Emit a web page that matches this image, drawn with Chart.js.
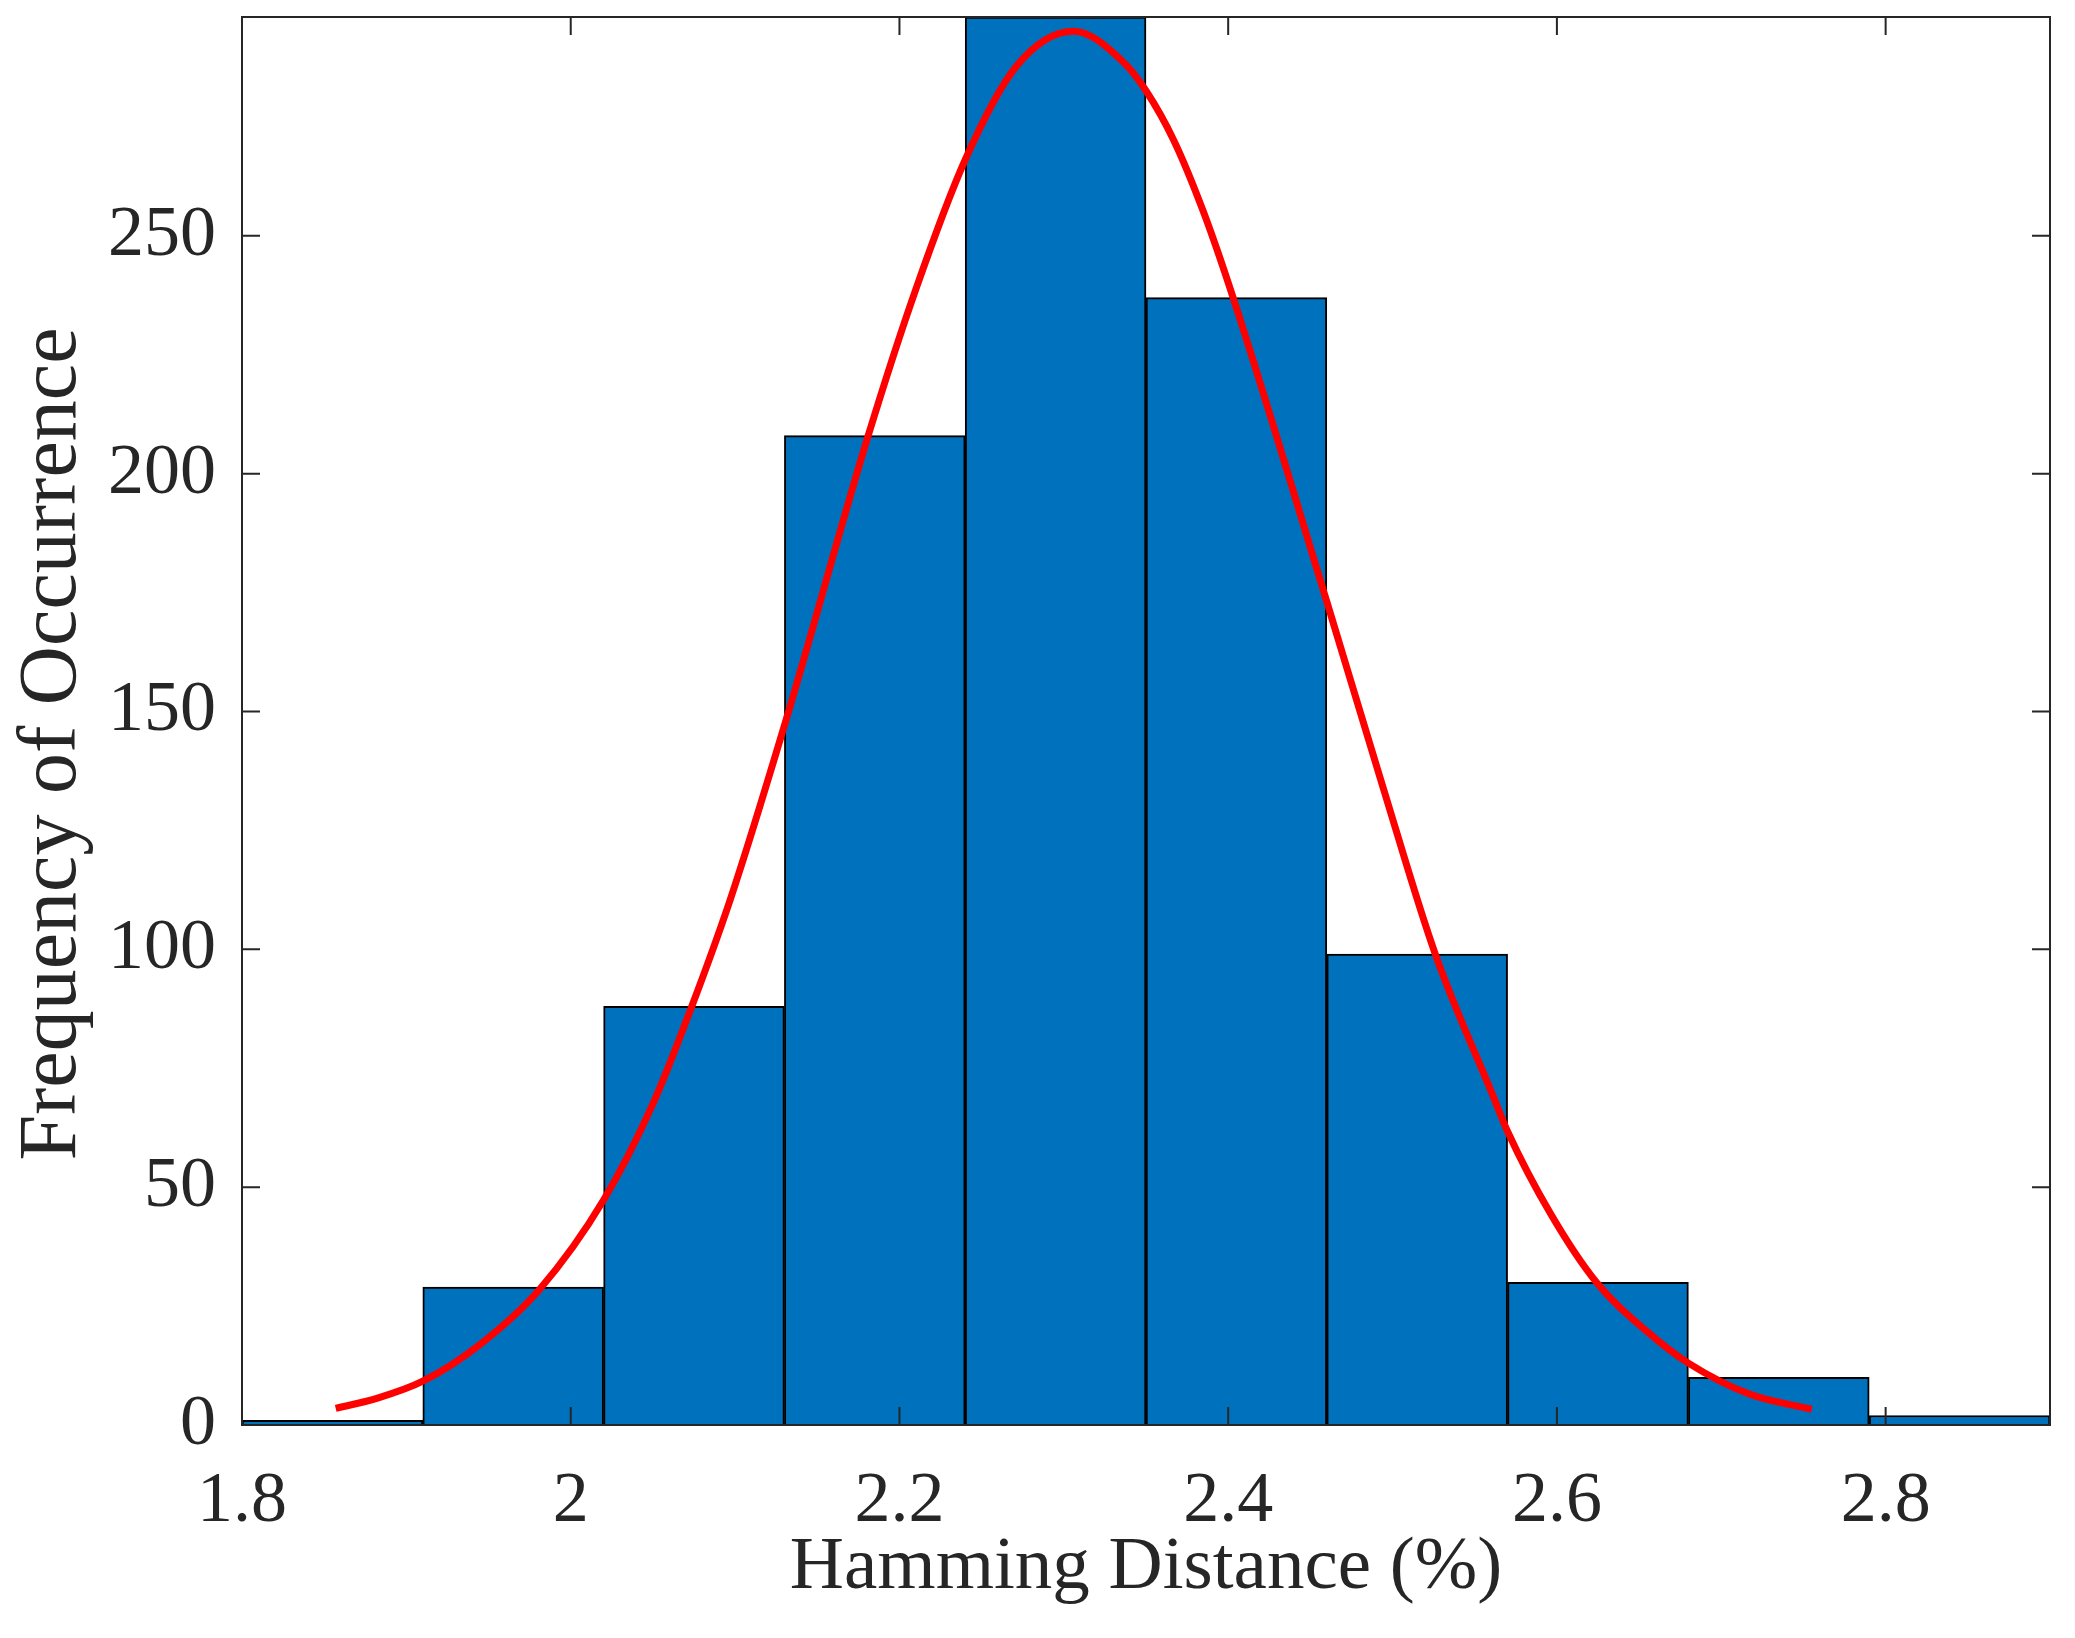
<!DOCTYPE html>
<html>
<head>
<meta charset="utf-8">
<script src="https://cdn.jsdelivr.net/npm/chart.js@4.4.1/dist/chart.umd.min.js"></script>
<style>
  body { margin: 0; background: #fff; }
  #wrap { width: 2075px; height: 1638px; }
</style>
</head>
<body>
<div id="wrap"><canvas id="hist" width="2075" height="1638"></canvas></div>
<script>
// histogram bins (centres of 0.11 wide bins from 1.80 to 2.90)
const binCenters = [1.855, 1.965, 2.075, 2.185, 2.295, 2.405, 2.515, 2.625, 2.735, 2.845];
const binCounts = [1, 29, 88, 208, 296, 237, 99, 30, 10, 2];

// fitted curve
const fitX = [1.857, 1.882, 1.910, 1.945, 1.981, 2.020, 2.050, 2.072, 2.097, 2.131, 2.181, 2.210,
  2.240, 2.271, 2.306, 2.336, 2.350, 2.367, 2.385, 2.403, 2.460, 2.494, 2.526, 2.561, 2.570,
  2.596, 2.624, 2.656, 2.680, 2.717, 2.755];
const fitY = [3.5, 5.6, 9.2, 17, 28.5, 47.3, 67.5, 86.5, 110.4, 148.2, 208, 238.8,
  266, 285.6, 293, 286.6, 280.5, 270, 255, 237, 173.1, 134.3, 99, 69.3, 61.7,
  44.5, 30, 19.3, 13.0, 6.5, 3.3];

const xTicks = [1.8, 2.0, 2.2, 2.4, 2.6, 2.8];
const yTicks = [0, 50, 100, 150, 200, 250];

const axisColor = '#262626';
const fontFamily = '"Liberation Serif", "Times New Roman", serif';

// box around the axes with inward ticks on all sides, plus axis titles
const framePlugin = {
  id: 'frame',
  afterDraw(chart) {
    const ctx = chart.ctx;
    const a = chart.chartArea;
    const xs = chart.scales.x, ys = chart.scales.y;
    const tl = 18;
    ctx.save();
    ctx.strokeStyle = axisColor;
    ctx.lineWidth = 2;
    ctx.strokeRect(a.left, a.top, a.right - a.left, a.bottom - a.top);
    ctx.beginPath();
    xTicks.forEach(v => {
      const px = xs.getPixelForValue(v);
      ctx.moveTo(px, a.bottom); ctx.lineTo(px, a.bottom - tl);
      ctx.moveTo(px, a.top); ctx.lineTo(px, a.top + tl);
    });
    yTicks.forEach(v => {
      const py = ys.getPixelForValue(v);
      ctx.moveTo(a.left, py); ctx.lineTo(a.left + tl, py);
      ctx.moveTo(a.right, py); ctx.lineTo(a.right - tl, py);
    });
    ctx.stroke();

    ctx.fillStyle = axisColor;
    ctx.font = '75px ' + fontFamily;
    ctx.textAlign = 'center';
    ctx.textBaseline = 'alphabetic';
    ctx.fillText('Hamming Distance (%)', (a.left + a.right) / 2, 1588);

    ctx.translate(75, 744);
    ctx.rotate(-Math.PI / 2);
    ctx.font = '82px ' + fontFamily;
    ctx.fillText('Frequency of Occurrence', 0, 0);
    ctx.restore();
  }
};

new Chart(document.getElementById('hist'), {
  data: {
    datasets: [
      {
        type: 'line',
        label: 'fit',
        data: fitX.map((x, i) => ({ x: x, y: fitY[i] })),
        borderColor: '#FF0000',
        borderWidth: 7,
        pointRadius: 0,
        cubicInterpolationMode: 'monotone',
        order: 0
      },
      {
        type: 'bar',
        label: 'counts',
        data: binCenters.map((x, i) => ({ x: x, y: binCounts[i] })),
        backgroundColor: '#0072BD',
        borderColor: '#000000',
        borderWidth: 2,
        barPercentage: 1,
        categoryPercentage: 1,
        order: 1
      }
    ]
  },
  options: {
    responsive: false,
    animation: false,
    layout: { autoPadding: false, padding: { top: 17, right: 25, left: 0, bottom: 0 } },
    plugins: { legend: { display: false }, tooltip: { enabled: false } },
    scales: {
      x: {
        type: 'linear',
        offset: false,
        min: 1.8,
        max: 2.9,
        afterFit: s => { s.height = 213; s.paddingLeft = 0; s.paddingRight = 0; },
        afterBuildTicks: s => { s.ticks = xTicks.map(v => ({ value: v })); },
        grid: { display: false, offset: false },
        border: { display: false },
        ticks: {
          padding: 26,
          color: axisColor,
          font: { family: fontFamily, size: 72 },
          callback: v => String(Math.round(v * 10) / 10)
        }
      },
      y: {
        min: 0,
        max: 296,
        afterFit: s => { s.width = 242; s.paddingTop = 0; s.paddingBottom = 0; },
        afterBuildTicks: s => { s.ticks = yTicks.map(v => ({ value: v })); },
        grid: { display: false },
        border: { display: false },
        ticks: {
          padding: 18,
          color: axisColor,
          font: { family: fontFamily, size: 72 }
        }
      }
    }
  },
  plugins: [framePlugin]
});
</script>
</body>
</html>
